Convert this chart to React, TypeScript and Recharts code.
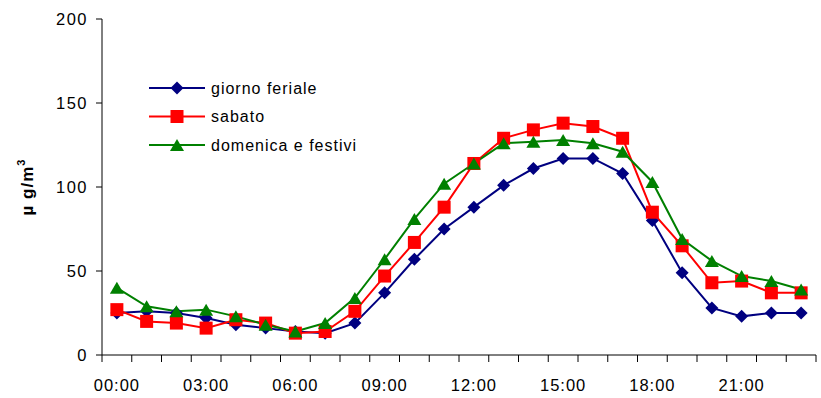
import React from 'react';
import { LineChart, Line, XAxis, YAxis } from 'recharts';

const hours = [
  '00:00', '01:00', '02:00', '03:00', '04:00', '05:00', '06:00', '07:00',
  '08:00', '09:00', '10:00', '11:00', '12:00', '13:00', '14:00', '15:00',
  '16:00', '17:00', '18:00', '19:00', '20:00', '21:00', '22:00', '23:00',
];
const feriale = [25, 26, 25, 22, 18, 16, 14, 13, 19, 37, 57, 75, 88, 101, 111, 117, 117, 108, 80, 49, 28, 23, 25, 25];
const sabato = [27, 20, 19, 16, 21, 19, 13, 14, 26, 47, 67, 88, 114, 129, 134, 138, 136, 129, 85, 65, 43, 44, 37, 37];
const festivi = [40, 29, 26, 27, 23, 18, 14, 19, 34, 57, 81, 102, 114, 126, 127, 128, 126, 121, 103, 69, 56, 47, 44, 39];
const yTicks = [0, 50, 100, 150, 200];

const series = [
  { key: 'feriale', name: 'giorno feriale', color: '#000080', shape: 'diamond' },
  { key: 'sabato', name: 'sabato', color: '#FF0000', shape: 'square' },
  { key: 'festivi', name: 'domenica e festivi', color: '#008000', shape: 'triangle' },
];

const data = hours.map((h, i) => ({
  hour: h,
  feriale: feriale[i],
  sabato: sabato[i],
  festivi: festivi[i],
}));

const FONT = '"Liberation Sans", Arial, sans-serif';
const W = 821;
const H = 398;
const M = { top: 19, right: 5, bottom: 13, left: 0 };
const Y_W = 102;
const BAND = (W - M.left - M.right - Y_W) / hours.length;

const Marker = ({ shape, cx, cy, color }: any) => {
  if (cx == null || cy == null) return null;
  if (shape === 'diamond') {
    const r = 6.5;
    return <polygon points={`${cx},${cy - r} ${cx + r},${cy} ${cx},${cy + r} ${cx - r},${cy}`} fill={color} />;
  }
  if (shape === 'square') {
    const s = 13;
    return <rect x={cx - s / 2} y={cy - s / 2} width={s} height={s} fill={color} />;
  }
  const w = 14, h = 12;
  return <polygon points={`${cx},${cy - h / 2} ${cx + w / 2},${cy + h / 2} ${cx - w / 2},${cy + h / 2}`} fill={color} />;
};

const XTick = (props: any) => {
  const { x, y, payload, index } = props;
  const i = payload?.index ?? index;
  const half = BAND / 2;
  return (
    <g>
      <line x1={x - half} x2={x - half} y1={y} y2={y + 7} stroke="#000" strokeWidth={1} />
      {i === hours.length - 1 && (
        <line x1={x + half} x2={x + half} y1={y} y2={y + 7} stroke="#000" strokeWidth={1} />
      )}
      {i % 3 === 0 && (
        <text x={x} y={y + 36} textAnchor="middle" fontSize={16.5} fontFamily={FONT} fill="#000" letterSpacing={1}>
          {payload.value}
        </text>
      )}
    </g>
  );
};

const YLabel = (props: any) => {
  const vb = props.viewBox || { x: 0, y: M.top, width: Y_W, height: 336 };
  const cx = vb.x + 27;
  const cy = vb.y + vb.height / 2;
  return (
    <text
      x={cx}
      y={cy}
      transform={`rotate(-90, ${cx}, ${cy})`}
      textAnchor="middle"
      dominantBaseline="central"
      fontSize={17}
      fontWeight="bold"
      fontFamily={FONT}
      fill="#000"
      letterSpacing={1}
    >
      µ g/m<tspan fontSize={11} dy={-6}>3</tspan>
    </text>
  );
};

const LegendBox = () => (
  <svg width={230} height={90} style={{ position: 'absolute', left: 145, top: 74 }}>
    {series.map((s, i) => {
      const cy = 14 + i * 28.5;
      return (
        <g key={s.key}>
          <line x1={4} x2={60} y1={cy} y2={cy} stroke={s.color} strokeWidth={2} />
          <Marker shape={s.shape} cx={32} cy={cy} color={s.color} />
          <text x={66} y={cy} dominantBaseline="central" fontSize={16} fontFamily={FONT} fill="#000" letterSpacing={1}>
            {s.name}
          </text>
        </g>
      );
    })}
  </svg>
);

export default function App() {
  return (
    <div style={{ position: 'absolute', left: 0, top: 0, width: W, height: H, background: '#fff' }}>
      <LineChart width={W} height={H} data={data} margin={M}>
        <XAxis
          dataKey="hour"
          interval={0}
          tickLine={false}
          tickSize={0}
          tickMargin={0}
          height={30}
          padding={{ left: BAND / 2, right: BAND / 2 }}
          axisLine={{ stroke: '#000', strokeWidth: 1 }}
          tick={<XTick />}
        />
        <YAxis
          domain={[0, 200]}
          ticks={yTicks}
          width={Y_W}
          tickSize={6}
          tickMargin={8}
          axisLine={{ stroke: '#000', strokeWidth: 1 }}
          tickLine={{ stroke: '#000', strokeWidth: 1 }}
          tick={{ fill: '#000', fontSize: 16.5, fontFamily: FONT, letterSpacing: 1.5 }}
          label={<YLabel />}
        />
        {series.map((s) => (
          <Line
            key={s.key}
            type="linear"
            dataKey={s.key}
            name={s.name}
            stroke={s.color}
            strokeWidth={2}
            isAnimationActive={false}
            dot={(p: any) => <Marker key={`${s.key}-${p.index}`} shape={s.shape} cx={p.cx} cy={p.cy} color={s.color} />}
            activeDot={false}
          />
        ))}
      </LineChart>
      <LegendBox />
    </div>
  );
}
